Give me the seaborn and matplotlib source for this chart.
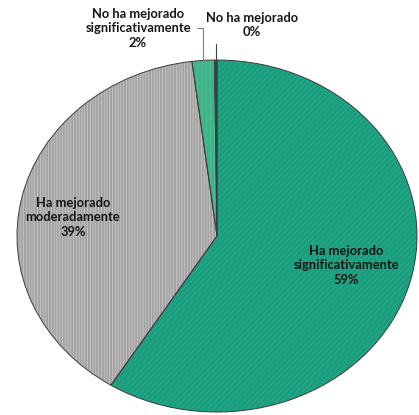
import matplotlib
matplotlib.use("Agg")
import matplotlib.pyplot as plt
import seaborn as sns
import numpy as np

categories = ["Ha mejorado\nsignificativamente", "Ha mejorado\nmoderadamente",
              "No ha mejorado\nsignificativamente", "No ha mejorado"]
values = [58.9, 39.1, 1.8, 0.2]
pct_labels = ["59%", "39%", "2%", "0%"]

colors = ["#1b9e7e", "#a3a3a3", "#3cb488", "#0e5a46"]
hatch_colors = ["#2fae8e", "#d2d2d2", "#5cc69e", "#0e5a46"]
hatches = ["//////", "||||||", "||||", ""]

sns.set_theme(style="white")
plt.rcParams["font.family"] = ["Lato", "DejaVu Sans"]
plt.rcParams["hatch.linewidth"] = 0.45

fig = plt.figure(figsize=(4.19, 4.15), dpi=100)
ax = fig.add_axes([0, 0, 1, 1])

wedges, _ = ax.pie(values, colors=colors, startangle=90, counterclock=False,
                   wedgeprops=dict(linewidth=0))
for w, hc, h in zip(wedges, hatch_colors, hatches):
    w.set_edgecolor(hc)
    w.set_hatch(h)
    w.set_linewidth(0)

wedges2, _ = ax.pie(values, colors=["none"] * 4, startangle=90, counterclock=False,
                    wedgeprops=dict(linewidth=0.7, edgecolor="#3d3d3d"))

ax.set_aspect("auto")
ax.set_xlim(-1.085, 1.01)
ax.set_ylim(-1.017, 1.341)
ax.axis("off")

txt_kw = dict(ha="center", va="center", fontsize=9.3, fontweight="bold",
              color="#141414", linespacing=1.25)

# inside labels
ax.text(0.645, -0.165, categories[0] + "\n" + pct_labels[0], **txt_kw)
ax.text(-0.72, 0.108, categories[1] + "\n" + pct_labels[1], **txt_kw)

# outside labels with leader lines
def edge_point(w):
    ang = np.deg2rad((w.theta1 + w.theta2) / 2)
    return np.cos(ang), np.sin(ang)

ax.annotate(categories[2] + "\n" + pct_labels[2], xy=edge_point(wedges[2]),
            xytext=(-0.395, 1.18), textcoords="data",
            arrowprops=dict(arrowstyle="-", color="#7f7f7f", lw=0.8,
                            connectionstyle="angle,angleA=0,angleB=90,rad=0",
                            relpos=(1.0, 0.5), shrinkA=2, shrinkB=0),
            **txt_kw)
ax.annotate(categories[3] + "\n" + pct_labels[3], xy=edge_point(wedges[3]),
            xytext=(0.175, 1.2), textcoords="data",
            arrowprops=dict(arrowstyle="-", color="#404040", lw=0.8,
                            connectionstyle="angle,angleA=0,angleB=90,rad=0",
                            relpos=(0.0, 0.75), shrinkA=2, shrinkB=0),
            **txt_kw)

fig.savefig("out.png", dpi=100, facecolor="white")
